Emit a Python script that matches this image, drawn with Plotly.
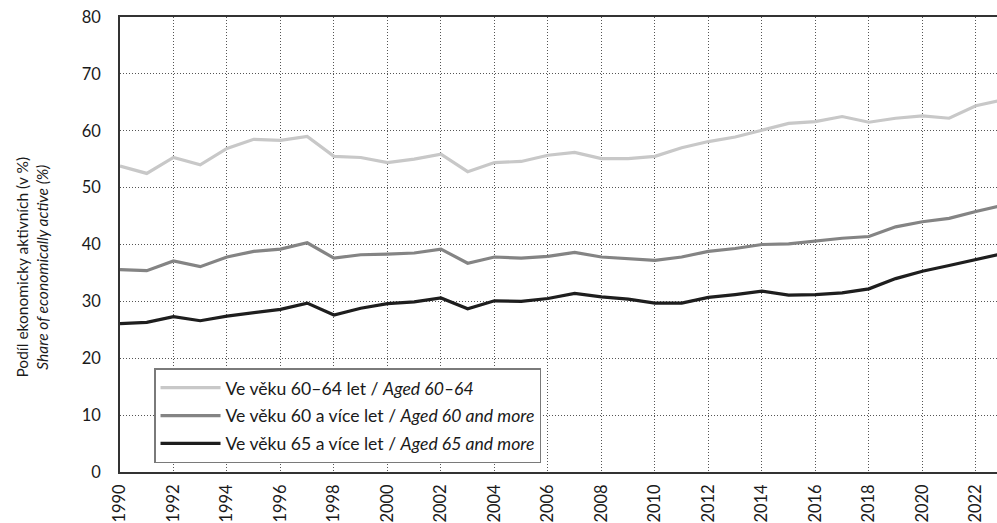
import plotly.graph_objects as go

years = list(range(1990, 2024))

aged_60_64 = [53.8, 52.5, 55.3, 54.0, 56.9, 58.5, 58.3, 59.0, 55.5, 55.3,
              54.4, 55.0, 55.9, 52.8, 54.4, 54.6, 55.7, 56.2, 55.1, 55.1,
              55.5, 57.0, 58.1, 58.9, 60.1, 61.3, 61.6, 62.5, 61.5, 62.2,
              62.6, 62.2, 64.4, 65.4]
aged_60_more = [35.6, 35.4, 37.1, 36.1, 37.8, 38.8, 39.2, 40.3, 37.6, 38.2,
                38.3, 38.5, 39.2, 36.7, 37.8, 37.6, 37.9, 38.6, 37.8, 37.5,
                37.2, 37.8, 38.8, 39.3, 40.0, 40.1, 40.6, 41.1, 41.4, 43.1,
                44.0, 44.6, 45.8, 46.9]
aged_65_more = [26.1, 26.3, 27.3, 26.6, 27.4, 28.0, 28.6, 29.7, 27.6, 28.8,
                29.6, 29.9, 30.6, 28.7, 30.1, 30.0, 30.5, 31.4, 30.8, 30.4,
                29.7, 29.7, 30.7, 31.2, 31.8, 31.1, 31.2, 31.5, 32.2, 34.0,
                35.3, 36.3, 37.3, 38.4]

series_names = [
    "Ve věku 60–64 let / <i>Aged 60–64</i>",
    "Ve věku 60 a více let / <i>Aged 60 and more</i>",
    "Ve věku 65 a více let / <i>Aged 65 and more</i>",
]
series_values = [aged_60_64, aged_60_more, aged_65_more]
series_colors = ["#c8c8c8", "#848484", "#1e1e1e"]

x_ticks = list(range(1990, 2023, 2))
y_ticks = list(range(0, 81, 10))

FONT = "Lato, 'Open Sans', sans-serif"
TXT = "#1a1a1a"
GRID_DASH = "1px,2px"

fig = go.Figure()
for i, (name, vals, col) in enumerate(zip(series_names, series_values, series_colors)):
    fig.add_trace(go.Scatter(
        x=years, y=vals, mode="lines", name=name,
        line=dict(color=col, width=3.2),
        legendgroup=f"g{i}",
    ))

fig.update_layout(
    width=997, height=523,
    margin=dict(l=120, r=0, t=17, b=51),
    paper_bgcolor="white", plot_bgcolor="white",
    font=dict(family=FONT, size=16, color=TXT),
    showlegend=True,
    legend=dict(
        x=0.0388, y=0.228, xanchor="left", yanchor="top",
        bgcolor="white", bordercolor="#7a7a7a", borderwidth=1.5,
        font=dict(family=FONT, size=17.6, color=TXT),
        tracegroupgap=2, traceorder="grouped",
        itemwidth=60,
    ),
    xaxis=dict(
        range=[1990, 2022.79],
        tickvals=x_ticks, ticktext=[str(v) for v in x_ticks],
        tickangle=-90, ticks="", ticklabelstandoff=4,
        showline=True, linecolor="#333", linewidth=1.5, mirror=True,
        showgrid=True, gridcolor="#555", griddash=GRID_DASH, gridwidth=1,
        zeroline=False,
        tickfont=dict(family=FONT, size=16.5, color=TXT),
    ),
    yaxis=dict(
        range=[0, 80], tickvals=y_ticks,
        ticks="", ticklabelstandoff=14,
        showline=True, linecolor="#333", linewidth=1.5,
        showgrid=True, gridcolor="#555", griddash=GRID_DASH, gridwidth=1,
        zeroline=False,
        tickfont=dict(family=FONT, size=16.5, color=TXT),
    ),
    annotations=[dict(
        text="Podíl ekonomicky aktivních (v %)<br><i>Share of economically active (%)</i>",
        xref="paper", yref="paper", x=-0.1, y=0.45,
        xanchor="center", yanchor="middle", textangle=-90, showarrow=False,
        font=dict(family=FONT, size=15.5, color=TXT),
    )],
)

fig.write_html("out.html", config={"displayModeBar": False},
               post_script="document.body.style.margin='0px';")
